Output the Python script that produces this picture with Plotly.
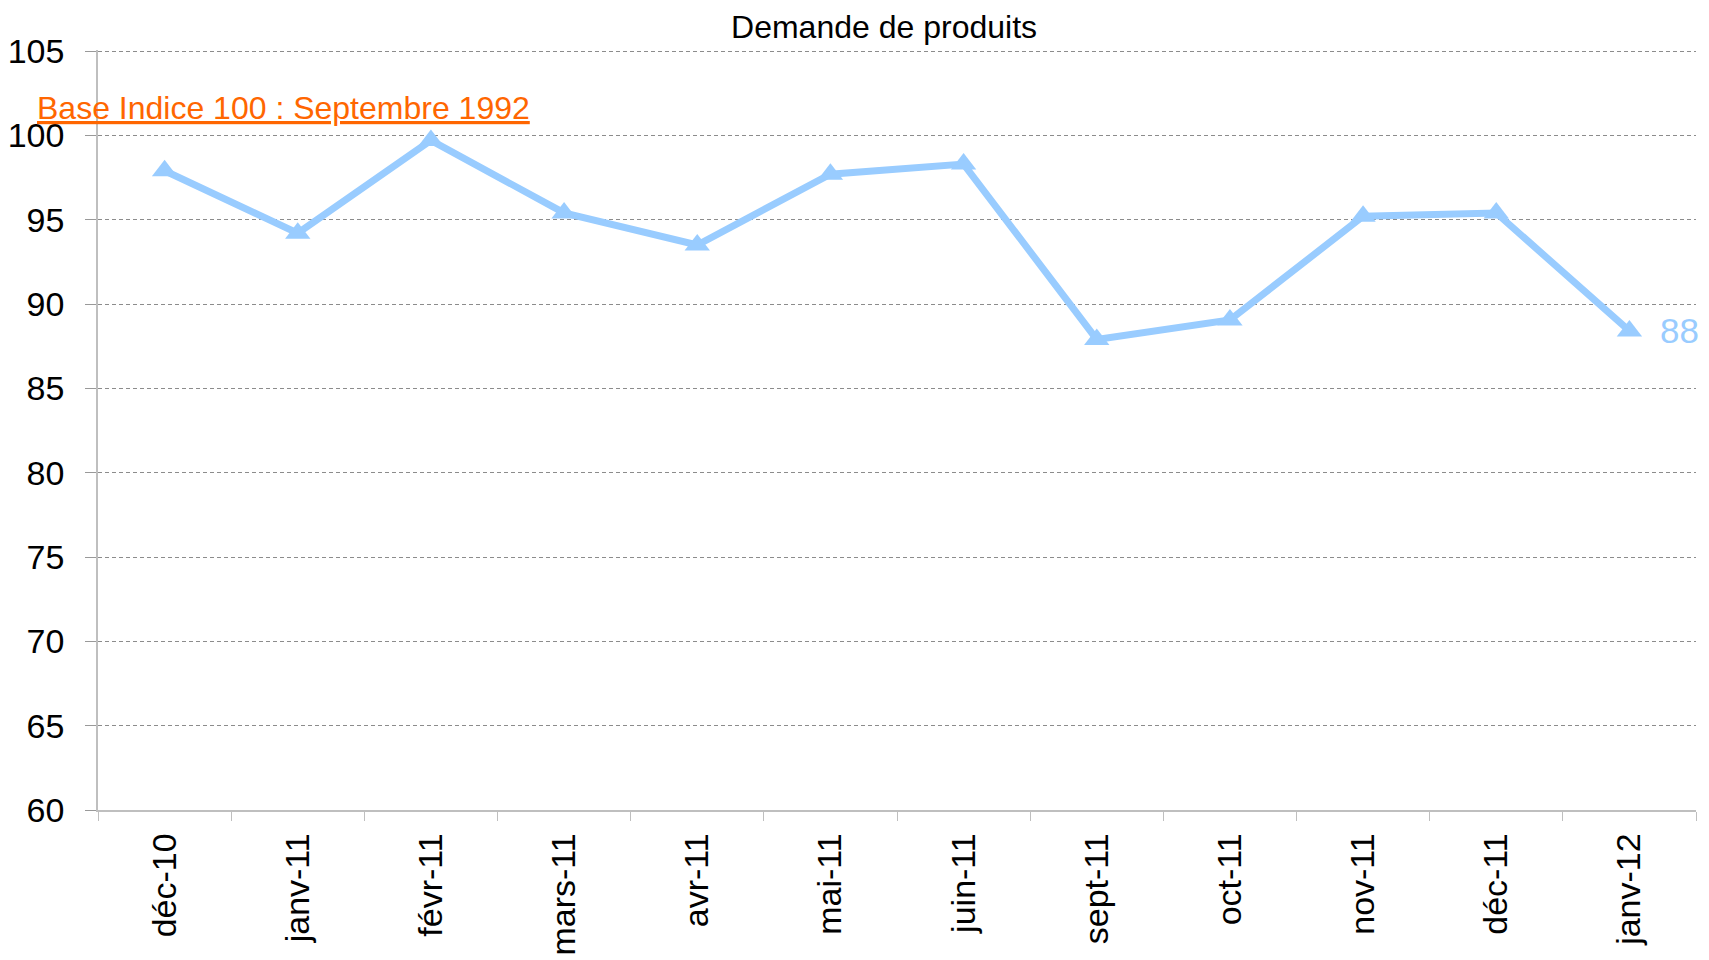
import plotly.graph_objects as go

categories = ["déc-10", "janv-11", "févr-11", "mars-11", "avr-11", "mai-11",
              "juin-11", "sept-11", "oct-11", "nov-11", "déc-11", "janv-12"]
values = [97.9, 94.2, 99.7, 95.4, 93.5, 97.7, 98.3, 87.9, 89.05, 95.2, 95.4, 88.4]
last_label = "88"
y_ticks = [60, 65, 70, 75, 80, 85, 90, 95, 100, 105]

FONT = "Liberation Sans, Arial, sans-serif"
LINE = "#99CCFF"

fig = go.Figure()
fig.add_trace(go.Scatter(
    x=categories, y=values, mode="lines+markers",
    line=dict(color=LINE, width=7),
    marker=dict(symbol="triangle-up", size=22, color=LINE),
    cliponaxis=False, showlegend=False,
))

fig.update_layout(
    width=1709, height=960,
    margin=dict(l=90, r=21, t=42, b=158),
    paper_bgcolor="white", plot_bgcolor="white",
    font=dict(family=FONT, size=34, color="black"),
    title=dict(text="Demande de produits", x=0.5126, xref="container", xanchor="center",
               y=1 - 19 / 960, yref="container", yanchor="middle", automargin=False,
               font=dict(size=32, color="black", family=FONT)),
    xaxis=dict(
        type="category", range=[-0.5, 11.5], tickson="boundaries",
        ticks="outside", ticklen=9, tickcolor="#BFBFBF", tickwidth=1,
        showline=True, linecolor="#BFBFBF", linewidth=1.5,
        showgrid=False, tickangle=-90, ticklabelstandoff=8, automargin=False,
        tickfont=dict(size=34, family=FONT, color="black"),
    ),
    yaxis=dict(
        range=[60, 105.06], tickvals=y_ticks, ticks="outside", ticklen=11,
        tickcolor="#999999", showline=True, linecolor="#BFBFBF", linewidth=1.5,
        showgrid=True, gridcolor="#8C8C8C", griddash="4px,3px", gridwidth=1.2,
        zeroline=False, ticklabelstandoff=14, automargin=False,
        tickfont=dict(size=34, family=FONT, color="black"),
    ),
    annotations=[
        dict(
            text="<u>Base Indice 100 : Septembre 1992</u>",
            xref="paper", yref="y", x=-0.0394, y=101.6,
            xanchor="left", yanchor="middle", showarrow=False,
            font=dict(size=32, color="#FF6600", family=FONT),
        ),
        dict(
            text=last_label, xref="x", yref="y", x=categories[-1], y=values[-1],
            xanchor="left", yanchor="middle", xshift=29, yshift=0, showarrow=False,
            font=dict(size=35, color=LINE, family=FONT),
        ),
    ],
)

fig.write_html("out.html")
